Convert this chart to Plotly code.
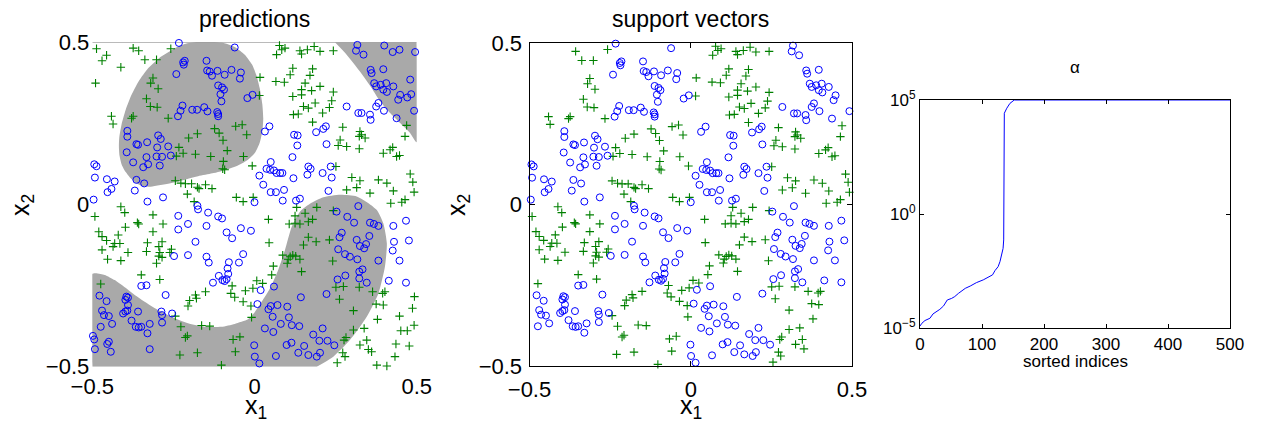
import plotly.graph_objects as go

# ---------------- data ----------------
# class +1 training points that are support vectors (green "+")
sv_plus = [
    (-0.357,0.474),(-0.258,0.480),(-0.338,0.446),(-0.302,0.446),(-0.313,0.390),(-0.320,0.374),(-0.297,0.357),
    (-0.333,0.326),(-0.321,0.302),(-0.300,0.300),(-0.441,0.272),(-0.436,0.248),(-0.379,0.266),(-0.374,0.272),
    (-0.266,0.266),(-0.123,0.234),(-0.109,0.220),(-0.058,0.241),(-0.038,0.246),(-0.024,0.215),(-0.203,0.205),
    (-0.176,0.218),(-0.097,0.198),(-0.233,0.176),(-0.220,0.158),(-0.241,0.149),(-0.182,0.155),(-0.135,0.148),
    (-0.084,0.166),(-0.034,0.148),(-0.096,0.133),(-0.092,0.107),(-0.098,0.110),(-0.007,0.119),(-0.244,0.073),
    (-0.227,0.066),(-0.213,0.064),(-0.194,0.064),(-0.176,0.053),(-0.171,0.049),(-0.151,0.061),(-0.131,0.049),
    (-0.207,0.032),(-0.186,0.009),(-0.056,0.022),(-0.035,0.009),(-0.004,0.022),
    (0.077,0.490),(0.084,0.477),(0.068,0.462),(0.094,0.482),(0.140,0.474),(0.145,0.464),(0.163,0.477),
    (0.184,0.487),(0.202,0.472),(0.243,0.474),(0.118,0.420),(0.179,0.418),(0.110,0.400),(0.171,0.398),
    (0.017,0.392),(0.066,0.379),(0.092,0.377),(0.156,0.374),(0.202,0.364),(0.145,0.354),(0.176,0.351),
    (0.243,0.347),(0.118,0.333),(0.145,0.338),(0.238,0.320),(0.187,0.313),(0.151,0.302),(0.166,0.297),
    (0.231,0.299),(0.120,0.277),(0.135,0.279),(0.210,0.282),(0.179,0.254),(0.272,0.238),(0.325,0.225),
    (0.330,0.215),(0.341,0.205),(0.323,0.210),(0.264,0.199),(0.258,0.182),(0.284,0.179),(0.323,0.172),
    (0.397,0.158),(0.418,0.169),(0.426,0.176),(0.438,0.148),(0.447,0.151),(0.251,0.117),(0.300,0.083),
    (0.325,0.073),(0.315,0.052),(0.382,0.076),(0.408,0.066),(0.356,0.035),(0.284,0.045),(0.428,0.042),
    (0.464,0.015),(0.454,0.007),(0.480,0.094),(0.488,0.069),(0.492,0.038),(0.469,0.244),(0.464,0.210),
    (0.015,0.336),
    (-0.412,-0.007),(-0.400,-0.025),(-0.492,-0.037),(-0.313,-0.032),(-0.361,-0.056),(-0.357,-0.060),
    (-0.282,-0.060),(-0.398,-0.070),(-0.313,-0.084),(-0.480,-0.084),(-0.470,-0.099),(-0.420,-0.094),
    (-0.456,-0.111),(-0.431,-0.120),(-0.436,-0.130),(-0.415,-0.120),(-0.330,-0.118),(-0.285,-0.115),
    (-0.470,-0.140),(-0.390,-0.148),(-0.333,-0.145),(-0.295,-0.130),(-0.292,-0.148),(-0.256,-0.138),
    (-0.261,-0.148),(-0.295,-0.159),(-0.285,-0.163),(-0.453,-0.169),(-0.412,-0.173),(-0.302,-0.181),
    (-0.349,-0.217),(-0.292,-0.231),(-0.474,-0.245),(-0.069,-0.251),(-0.028,-0.266),(-0.151,-0.269),
    (-0.182,-0.279),(-0.179,-0.289),(-0.200,-0.296),(-0.205,-0.313),(-0.073,-0.274),(-0.061,-0.286),
    (-0.035,-0.300),(-0.011,-0.313),(-0.244,-0.344),(-0.227,-0.377),(-0.163,-0.373),(-0.138,-0.375),
    (-0.207,-0.405),(-0.213,-0.410),(-0.066,-0.416),(-0.045,-0.408),(-0.059,-0.454),(-0.176,-0.457),
    (-0.230,-0.464),(-0.102,-0.495),(-0.005,-0.258),(-0.009,-0.348),
    (0.130,-0.009),(0.192,-0.009),(0.243,-0.019),(0.420,0.004),(0.125,-0.035),(0.156,-0.027),(0.043,-0.046),
    (0.107,-0.060),(0.125,-0.058),(0.140,-0.060),(0.166,-0.053),(0.179,-0.046),(0.166,-0.101),(0.190,-0.115),
    (0.231,-0.109),(0.151,-0.125),(0.045,-0.118),(0.087,-0.156),(0.110,-0.161),(0.104,-0.169),(0.118,-0.156),
    (0.127,-0.159),(0.140,-0.169),(0.101,-0.181),(0.241,-0.174),(0.058,-0.190),(0.053,-0.217),(0.145,-0.207),
    (0.007,-0.235),(0.025,-0.243),(0.251,-0.255),(0.274,-0.253),(0.323,-0.255),(0.262,-0.292),(0.364,-0.269),
    (0.395,-0.274),(0.402,-0.269),(0.375,-0.307),(0.397,-0.310),(0.305,-0.327),(0.379,-0.354),(0.305,-0.387),
    (0.338,-0.382),(0.282,-0.410),(0.276,-0.418),(0.325,-0.433),(0.346,-0.418),(0.351,-0.447),(0.272,-0.457),
    (0.279,-0.469),(0.255,-0.488),
]

# class -1 training points that are support vectors (blue "o")
sv_circ = [
    (-0.233,0.498),(-0.061,0.484),(-0.215,0.443),(-0.220,0.438),(-0.218,0.431),(-0.148,0.443),(-0.241,0.402),
    (-0.146,0.413),(-0.138,0.410),(-0.131,0.397),(-0.114,0.412),(-0.092,0.400),(-0.071,0.415),(-0.042,0.407),
    (-0.045,0.388),(-0.112,0.367),(-0.100,0.361),(-0.094,0.354),(-0.105,0.340),(-0.102,0.318),(-0.022,0.328),
    (-0.006,0.338),(-0.222,0.305),(-0.228,0.289),(-0.236,0.272),(-0.192,0.292),(-0.177,0.292),(-0.155,0.300),
    (-0.145,0.287),(-0.115,0.285),(-0.112,0.279),(-0.112,0.272),(-0.392,0.227),(-0.392,0.209),(-0.364,0.186),
    (-0.359,0.184),(-0.331,0.192),(-0.297,0.213),(-0.289,0.202),(-0.300,0.176),(-0.266,0.179),(-0.394,0.161),
    (-0.333,0.146),(-0.302,0.148),(-0.285,0.147),(-0.258,0.151),(-0.374,0.130),(-0.343,0.115),(-0.328,0.124),
    (-0.292,0.120),(-0.494,0.124),(-0.487,0.118),(-0.492,0.083),(-0.431,0.071),(-0.364,0.076),(-0.340,0.065),
    (-0.441,0.048),(-0.453,0.038),(-0.369,0.043),(-0.330,0.009),(-0.282,0.022),(-0.455,0.078),(-0.496,0.015),
    (0.000,0.007),
    (0.317,0.492),(0.313,0.474),(0.336,0.462),(0.358,0.415),(0.361,0.405),(0.397,0.417),(0.369,0.374),
    (0.375,0.364),(0.389,0.369),(0.406,0.374),(0.397,0.354),(0.408,0.347),(0.428,0.364),(0.449,0.338),
    (0.443,0.323),(0.382,0.313),(0.375,0.302),(0.399,0.289),(0.492,0.289),(0.438,0.266),(0.284,0.302),
    (0.320,0.282),(0.330,0.282),(0.356,0.277),(0.358,0.261),(0.046,0.241),(0.032,0.225),(0.122,0.215),
    (0.133,0.213),(0.190,0.223),(0.212,0.233),(0.220,0.241),(0.222,0.186),(0.132,0.182),(0.117,0.146),
    (0.050,0.131),(0.037,0.110),(0.015,0.089),(0.048,0.107),(0.060,0.105),(0.068,0.097),(0.079,0.097),
    (0.086,0.097),(0.027,0.061),(0.050,0.038),(0.066,0.038),(0.091,0.045),(0.120,0.081),(0.166,0.117),
    (0.173,0.110),(0.163,0.092),(0.210,0.097),(0.235,0.117),(0.238,0.083),(0.228,0.042),(0.087,0.012),
    (0.128,0.012),(0.140,0.018),
    (-0.176,-0.004),(-0.174,-0.015),(-0.235,-0.035),(-0.205,-0.060),(-0.235,-0.077),(-0.143,-0.025),
    (-0.112,-0.037),(-0.100,-0.043),(-0.148,-0.066),(-0.086,-0.086),(-0.069,-0.104),(-0.042,-0.073),
    (-0.011,-0.081),(-0.182,-0.115),(-0.248,-0.159),(-0.205,-0.156),(-0.148,-0.161),(-0.141,-0.179),
    (-0.079,-0.178),(-0.048,-0.179),(-0.035,-0.153),(-0.083,-0.197),(-0.081,-0.214),(-0.110,-0.220),
    (-0.099,-0.233),(-0.092,-0.236),(-0.086,-0.230),(-0.128,-0.241),(-0.333,-0.249),(-0.349,-0.251),
    (-0.274,-0.279),(-0.478,-0.281),(-0.456,-0.298),(-0.395,-0.284),(-0.390,-0.287),(-0.398,-0.294),
    (-0.390,-0.310),(-0.470,-0.327),(-0.464,-0.341),(-0.449,-0.344),(-0.405,-0.336),(-0.398,-0.330),
    (-0.392,-0.327),(-0.359,-0.330),(-0.287,-0.330),(-0.285,-0.341),(-0.254,-0.336),(-0.379,-0.358),
    (-0.323,-0.368),(-0.366,-0.377),(-0.357,-0.379),(-0.349,-0.377),(-0.439,-0.368),(-0.474,-0.377),
    (-0.285,-0.364),(-0.330,-0.397),
    (0.320,-0.005),(0.253,-0.022),(0.286,-0.038),(0.307,-0.056),(0.356,-0.056),(0.368,-0.060),(0.382,-0.066),
    (0.428,-0.066),(0.467,-0.050),(0.269,-0.087),(0.262,-0.101),(0.354,-0.097),(0.315,-0.109),(0.344,-0.122),
    (0.325,-0.128),(0.338,-0.135),(0.430,-0.115),(0.476,-0.111),(0.258,-0.138),(0.279,-0.153),(0.294,-0.161),
    (0.317,-0.169),(0.382,-0.173),(0.426,-0.142),(0.447,-0.173),(0.333,-0.200),(0.323,-0.207),(0.323,-0.228),
    (0.346,-0.241),(0.256,-0.231),(0.280,-0.219),(0.222,-0.276),(0.143,-0.286),(0.414,-0.235),(0.467,-0.241),
    (0.019,-0.264),(0.060,-0.253),(0.009,-0.307),(0.050,-0.313),(0.071,-0.310),(0.101,-0.315),(0.043,-0.323),
    (0.056,-0.346),(0.106,-0.348),(0.081,-0.368),(0.115,-0.372),(0.138,-0.375),(0.032,-0.382),(0.058,-0.393),
    (0.210,-0.382),(0.181,-0.401),(-0.001,-0.434),(0.099,-0.433),(0.114,-0.426),(0.153,-0.436),(0.200,-0.420),
    (0.225,-0.420),(0.246,-0.434),(0.135,-0.457),(0.166,-0.464),(0.202,-0.457),(0.192,-0.469),(0.001,-0.469),
    (0.066,-0.467),(0.015,-0.490),
]

# training points that are not support vectors (shown only in "predictions")
other_plus = [
    (-0.487,0.480),(-0.374,0.482),(-0.456,0.460),(-0.470,0.443),(-0.412,0.423),(-0.490,0.374),
    (0.361,-0.454),(0.377,-0.495),(0.408,-0.498),(0.433,-0.469),(0.477,-0.436),(0.436,-0.430),
    (0.451,-0.389),(0.471,-0.389),(0.492,-0.372),(0.447,-0.344),(0.487,-0.320),(0.493,-0.284),
]
other_circ = [
    (0.400,0.490),(0.426,0.470),(0.447,0.477),(0.495,0.470),(0.480,0.385),(0.471,0.330),(0.483,0.340),
    (-0.498,-0.405),(-0.494,-0.416),(-0.449,-0.423),(-0.454,-0.430),(-0.492,-0.446),(-0.443,-0.454),
    (-0.323,-0.446),
]

# outlines of the regions predicted as class -1 (grey)
region_upper_left = [
    (-0.246,0.482),(-0.215,0.495),(-0.174,0.501),(-0.102,0.499),(-0.060,0.485),(-0.030,0.462),
    (-0.008,0.432),(0.006,0.398),(0.016,0.359),(0.024,0.310),(0.027,0.266),(0.024,0.225),(0.016,0.190),
    (0.002,0.160),(-0.020,0.138),(-0.050,0.121),(-0.081,0.109),(-0.130,0.096),(-0.174,0.087),
    (-0.256,0.066),(-0.320,0.055),(-0.345,0.056),(-0.365,0.066),(-0.382,0.081),(-0.397,0.100),
    (-0.409,0.122),(-0.416,0.150),(-0.418,0.178),(-0.417,0.205),(-0.410,0.246),(-0.397,0.292),
    (-0.379,0.338),(-0.357,0.380),(-0.328,0.420),(-0.290,0.455),
]
region_upper_right = [
    (0.248,0.500),(0.284,0.462),(0.325,0.410),(0.361,0.359),(0.387,0.318),(0.418,0.282),(0.449,0.251),
    (0.480,0.220),(0.500,0.192),(0.500,0.500),
]
region_lower = [
    (-0.500,-0.500),(-0.500,-0.214),(-0.462,-0.217),(-0.431,-0.233),(-0.400,-0.255),(-0.359,-0.286),
    (-0.307,-0.320),(-0.256,-0.346),(-0.205,-0.366),(-0.153,-0.377),(-0.102,-0.377),(-0.061,-0.368),
    (-0.020,-0.354),(0.000,-0.333),(0.022,-0.300),(0.048,-0.258),(0.073,-0.202),(0.094,-0.140),
    (0.115,-0.068),(0.140,-0.022),(0.171,0.002),(0.212,0.022),(0.264,0.030),(0.315,0.025),(0.350,0.005),
    (0.377,-0.017),(0.397,-0.058),(0.408,-0.120),(0.402,-0.192),(0.382,-0.274),(0.346,-0.346),
    (0.294,-0.418),(0.243,-0.469),(0.192,-0.500),
]

# sorted dual coefficients alpha
alpha_index = [0, 3, 8, 16, 21, 27, 32, 38, 44, 51, 56, 62, 67, 73, 81, 91, 102, 110, 117, 121,
               126, 129, 132, 134, 135, 136, 140, 145, 152, 500]
alpha_value = [1.26e-5, 1.66e-5, 2.19e-5, 2.75e-5, 4.27e-5, 5.37e-5, 6.76e-5, 9.55e-5, 1.74e-4, 2.04e-4,
               2.45e-4, 3.39e-4, 4.37e-4, 5.62e-4, 7.08e-4, 1.0e-3, 1.32e-3, 1.66e-3, 2.19e-3, 3.39e-3,
               5.01e-3, 8.32e-3, 1.91e-2, 3.16e-2, 7.41e-2, 2.63e4, 4.37e4, 7.08e4, 1e5, 1e5]

xy_range = [-0.5, 0.5]
xy_ticks = [-0.5, 0, 0.5]
xy_ticktext = ["\u22120.5", "0", "0.5"]
idx_ticks = [0, 100, 200, 300, 400, 500]
alpha_ticks = [1e-5, 1, 1e5]
alpha_ticktext = ["10<sup>\u22125</sup>", "10<sup>0</sup>", "10<sup>5</sup>"]

# ---------------- figure ----------------
W, H = 1261, 424
FONT = "Liberation Sans, Arial, Helvetica, sans-serif"
GREY = "#a9a9a9"
BLUE = "#0000ff"
GREEN = "#008000"

def xs(p):
    return [a for a, _ in p]

def ys(p):
    return [b for _, b in p]

fig = go.Figure()

for reg in (region_upper_left, region_upper_right, region_lower):
    fig.add_trace(go.Scatter(x=xs(reg), y=ys(reg), mode="lines", fill="toself", fillcolor=GREY,
                             line=dict(width=0, color=GREY, shape="spline", smoothing=0.6),
                             hoverinfo="skip", xaxis="x", yaxis="y"))

# top border line of the prediction image
fig.add_trace(go.Scatter(x=xy_range, y=[xy_range[1], xy_range[1]], mode="lines",
                         line=dict(color="#8c8c8c", width=1), hoverinfo="skip", xaxis="x", yaxis="y"))

plus_marker = dict(symbol="cross-thin", size=6, color=GREEN, line=dict(color=GREEN, width=1.1))
circ_marker = dict(symbol="circle-open", size=7, color=BLUE, line=dict(color=BLUE, width=1))

all_plus = sv_plus + other_plus
all_circ = sv_circ + other_circ
fig.add_trace(go.Scatter(x=xs(all_plus), y=ys(all_plus), mode="markers", marker=plus_marker,
                         cliponaxis=False, xaxis="x", yaxis="y"))
fig.add_trace(go.Scatter(x=xs(all_circ), y=ys(all_circ), mode="markers", marker=circ_marker,
                         cliponaxis=False, xaxis="x", yaxis="y"))

fig.add_trace(go.Scatter(x=xs(sv_plus), y=ys(sv_plus), mode="markers", marker=plus_marker,
                         cliponaxis=False, xaxis="x2", yaxis="y2"))
fig.add_trace(go.Scatter(x=xs(sv_circ), y=ys(sv_circ), mode="markers", marker=circ_marker,
                         cliponaxis=False, xaxis="x2", yaxis="y2"))

fig.add_trace(go.Scatter(x=alpha_index, y=alpha_value, mode="lines", line=dict(color=BLUE, width=1),
                         xaxis="x3", yaxis="y3"))

def px_x(p):
    return p / W

def px_y(p):
    return 1 - p / H

tick_font = dict(family=FONT, size=22, color="black")
common = dict(range=xy_range, tickvals=xy_ticks, ticktext=xy_ticktext, tickfont=tick_font,
              showgrid=False, zeroline=False, automargin=False)

fig.update_layout(
    width=W, height=H, margin=dict(l=0, r=0, t=0, b=0, pad=0), autosize=False,
    paper_bgcolor="white", plot_bgcolor="white", showlegend=False,
    font=dict(family=FONT, color="black"),
    xaxis=dict(domain=[px_x(92.3), px_x(416.7)], showline=False, ticks="", anchor="y",
               ticklabelstandoff=4, **common),
    yaxis=dict(domain=[px_y(366.7), px_y(42.3)], showline=False, ticks="", anchor="x",
               ticklabelstandoff=2, **common),
    xaxis2=dict(domain=[px_x(529.5), px_x(852)], showline=True, linecolor="black", linewidth=1,
                mirror="ticks", ticks="inside", ticklen=5, tickcolor="black", anchor="y2",
                ticklabelstandoff=4, **common),
    yaxis2=dict(domain=[px_y(366), px_y(43)], showline=True, linecolor="black", linewidth=1,
                mirror="ticks", ticks="inside", ticklen=5, tickcolor="black", anchor="x2",
                ticklabelstandoff=2, **common),
    xaxis3=dict(domain=[px_x(920), px_x(1230)], range=[0, 500], tickvals=idx_ticks,
                showline=True, linecolor="black", linewidth=1, mirror="ticks", ticks="inside",
                ticklen=4, tickcolor="black", showgrid=False, zeroline=False, anchor="y3",
                automargin=False, tickfont=dict(family=FONT, size=17, color="black")),
    yaxis3=dict(domain=[px_y(328.3), px_y(100)], type="log", range=[-5, 5], tickvals=alpha_ticks,
                ticktext=alpha_ticktext, showline=True, linecolor="black", linewidth=1, mirror="ticks",
                ticks="inside", ticklen=4, tickcolor="black", showgrid=False, zeroline=False,
                anchor="x3", automargin=False, tickfont=dict(family=FONT, size=17, color="black")),
)

def note(text, x, y, size, angle=0):
    fig.add_annotation(text=text, x=px_x(x), y=px_y(y), xref="paper", yref="paper",
                       showarrow=False, xanchor="center", yanchor="middle", textangle=angle,
                       font=dict(family=FONT, size=size, color="black"))

note("predictions", 254.5, 19, 23)
note("support vectors", 690.7, 19, 23)
note("x<sub>1</sub>", 256, 407, 25)
note("x<sub>1</sub>", 691, 407, 25)
note("x<sub>2</sub>", 22, 205, 25, -90)
note("x<sub>2</sub>", 458, 205, 25, -90)
note("\u03b1", 1075, 68, 17)
note("sorted indices", 1075, 361, 17)

fig.write_html("out.html")
